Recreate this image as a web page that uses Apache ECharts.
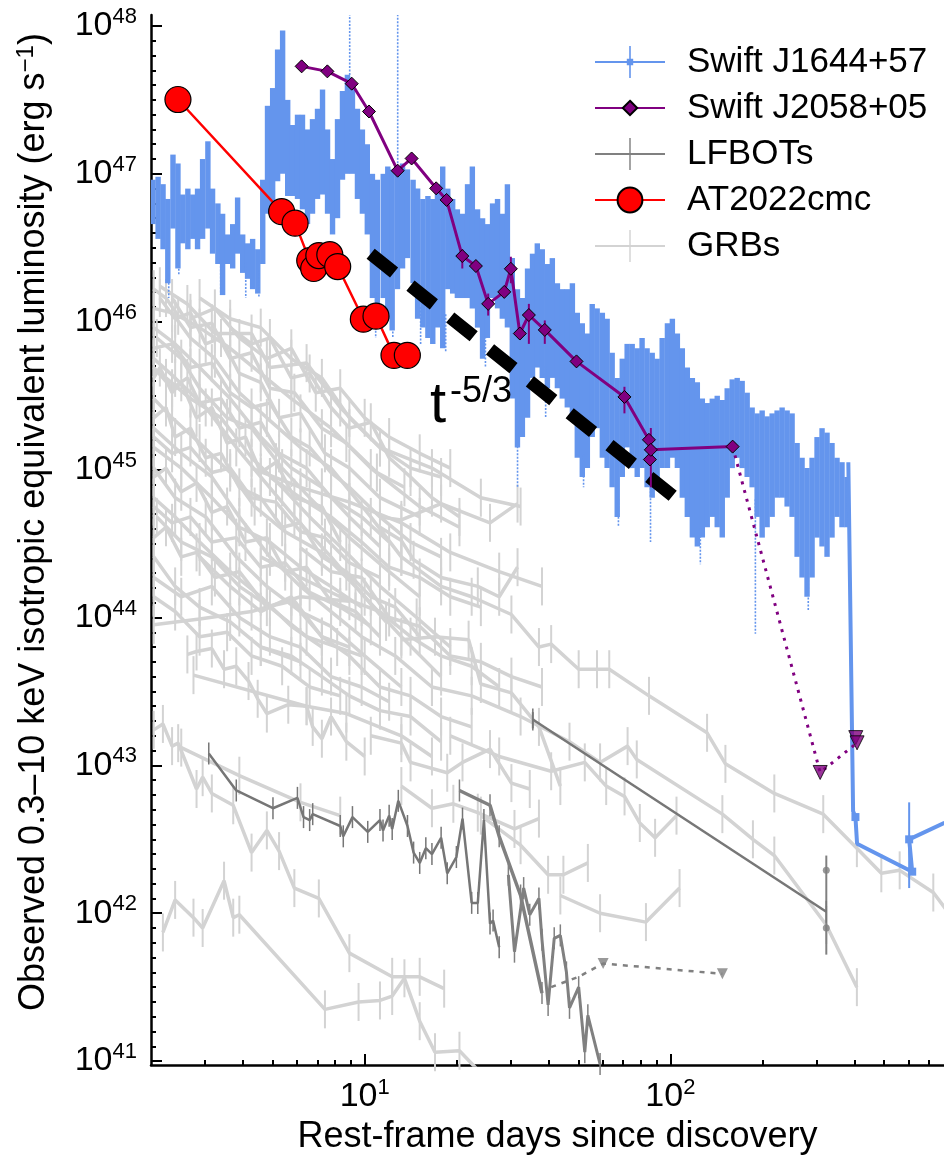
<!DOCTYPE html>
<html>
<head>
<meta charset="utf-8">
<script src="https://cdn.jsdelivr.net/npm/echarts@6.0.0/dist/echarts.min.js"></script>
<style>
html,body{margin:0;padding:0;background:#ffffff;}
#chart{width:944px;height:1160px;}
</style>
</head>
<body>
<div id="chart"></div>
<script>
// ---------------- DATA ----------------
const xTickExponents = [1, 2];
const yTickExponents = [41, 42, 43, 44, 45, 46, 47, 48];
const legendNames = ['Swift J1644+57', 'Swift J2058+05', 'LFBOTs', 'AT2022cmc', 'GRBs'];

// AT2022cmc (days, erg/s)
const at2022cmcDays = [2.45, 5.35, 5.92, 6.61, 6.81, 7.08, 7.69, 8.16, 9.90, 10.89, 12.47, 13.79];
const at2022cmcLum  = [3.18e47, 5.55e46, 4.64e46, 2.59e46, 2.29e46, 2.80e46, 2.84e46, 2.36e46, 1.04e46, 1.09e46, 5.92e45, 5.92e45];

// Swift J2058+05 detections
const j2058Days = [6.22, 7.55, 9.07, 10.33, 12.82, 14.24, 17.13, 18.53, 20.86, 23.11, 25.35, 28.61, 30.07, 32.18, 34.44, 38.83, 49.3, 70.74, 85.06, 85.7, 86.3, 159.8];
const j2058Lum  = [5.33e47, 4.93e47, 4.07e47, 2.64e47, 1.05e47, 1.27e47, 7.98e46, 6.66e46, 2.78e46, 2.38e46, 1.32e46, 1.59e46, 2.28e46, 8.32e45, 1.11e46, 8.80e45, 5.39e45, 3.10e45, 1.59e45, 1.17e45, 1.36e45, 1.43e45];
// Swift J2058+05 error bars: day, upper, lower
const j2058ErrDays = [20.86, 25.35, 30.07, 34.44, 38.83, 70.74, 86.3];
const j2058ErrHi   = [3.09e46, 1.55e46, 2.75e46, 1.32e46, 1.02e46, 3.63e45, 1.91e45];
const j2058ErrLo   = [2.29e46, 1.10e46, 1.82e46, 7.08e45, 7.08e45, 2.40e45, 7.59e44];
// Swift J2058+05 upper limits
const j2058LimDays = [309, 404, 408];
const j2058LimLum  = [8.95e42, 1.54e43, 1.42e43];

// Swift J1644+57 dense light curve: day, upper / lower edge of the band (log10 erg/s)
const j1644Days = [
 2.03,2.11,2.19,2.27,2.36,2.45,2.54,2.64,2.74,2.84,
 2.95,3.07,3.18,3.31,3.43,3.56,3.70,3.84,3.99,4.14,
 4.30,4.47,4.64,4.81,5.00,5.19,5.39,5.60,5.81,6.03,
 6.26,6.50,6.75,7.01,7.28,7.56,7.85,8.15,8.46,8.78,
 9.12,9.47,9.83,10.2,10.6,11.0,11.5,11.9,12.3,12.8,
 13.3,13.8,14.4,14.9,15.5,16.1,16.7,17.3,18.0,18.7,
 19.4,20.1,20.9,21.7,22.5,23.4,24.3,25.2,26.2,27.2,
 28.2,29.3,30.4,31.6,32.8,34.1,35.4,36.7,38.1,39.6,
 41.1,42.7,44.3,46.0,47.8,49.6,51.5,53.5,55.5,57.6,
 59.9,62.1,64.5,67.0,69.6,72.2,75.0,77.9,80.8,83.9,
 87.2,90.5,94.0,97.8,101.5,105.4,109.4,113.6,118.0,122.5,
 127.2,132.0,137.1,142.3,147.8,153.4,159.3,165.4,171.7,178.3,
 185.1,192.2,199.6,207.2,215.2,223.4,232.0,240.9,250.1,259.7,
 269.6,279.9,290.7,301.8,313.4,325.4,337.8,350.8,364.2,378.2];
const j1644LogHi = [
 46.96,46.98,46.93,46.83,47.13,47.07,46.86,46.90,46.86,46.90,
 47.10,47.22,46.90,46.80,46.73,46.59,46.66,46.84,46.59,46.53,
 46.56,46.49,46.96,47.46,47.58,47.84,47.97,47.50,47.33,47.40,
 47.40,47.30,47.37,47.44,47.57,47.30,47.10,47.37,47.56,47.67,
 47.60,47.44,47.30,47.20,47.00,46.96,47.00,47.05,47.03,47.00,
 47.07,47.03,46.96,46.90,46.83,46.85,46.83,46.93,47.05,46.90,
 46.83,46.76,46.73,46.93,47.05,46.76,46.70,46.66,46.80,46.83,
 46.73,46.93,46.43,46.22,46.16,46.36,46.46,46.53,46.49,46.39,
 46.43,46.26,46.22,46.22,46.26,46.06,45.99,45.92,46.12,46.09,
 46.06,46.02,45.79,45.62,45.75,45.85,45.85,45.82,45.89,45.82,
 45.79,45.75,45.89,45.99,46.02,45.92,45.82,45.69,45.62,45.59,
 45.48,45.45,45.48,45.50,45.47,45.55,45.61,45.62,45.60,45.52,
 45.42,45.38,45.40,45.36,45.38,45.40,45.42,45.40,45.38,45.18,
 45.08,45.01,45.08,45.22,45.28,45.25,45.18,45.08,45.05,44.95];
const j1644LogLo = [
 46.66,46.56,46.49,46.26,46.63,46.36,46.53,46.49,46.56,46.49,
 46.56,46.63,46.46,46.39,46.18,46.39,46.36,46.46,46.33,46.29,
 46.22,46.19,46.39,46.73,46.75,46.95,47.00,46.85,46.85,46.83,
 46.76,46.66,46.73,46.83,46.86,46.73,46.59,46.70,46.96,47.00,
 47.00,46.83,46.73,46.59,46.16,46.09,46.16,46.02,45.94,46.22,
 46.36,46.43,46.26,46.02,45.96,45.89,45.85,45.96,45.82,46.22,
 46.19,46.16,46.16,46.16,46.09,45.96,45.75,45.89,46.16,46.09,
 46.02,45.96,45.48,45.15,45.22,45.35,45.62,45.69,45.62,45.55,
 45.62,45.55,45.48,45.42,45.35,45.08,44.95,45.01,45.22,45.28,
 45.08,45.01,44.88,44.68,44.95,45.15,45.01,44.95,45.01,44.88,
 44.81,44.88,45.01,45.01,45.08,45.01,44.81,44.68,44.54,44.48,
 44.54,44.61,44.68,44.61,44.54,44.81,45.01,45.08,45.01,44.95,
 44.88,44.68,44.54,44.61,44.68,44.81,44.81,44.75,44.68,44.41,
 44.27,44.14,44.27,44.54,44.48,44.41,44.54,44.68,44.61,44.61];
// deep dotted error bars of J1644+57: [log day, log top, log bottom]
const j1644Dips = [
 [0.359,46.50,46.16],[0.392,46.50,46.31],[0.529,46.40,46.18],[0.611,46.40,46.16],[0.654,46.35,46.16],
 [1.036,46.20,45.89],[1.092,46.10,45.89],[1.183,46.10,45.85],[1.265,46.05,45.80],[1.395,45.90,45.69],
 [1.500,45.30,44.88],[1.592,45.70,45.35],[1.716,45.10,44.88],[1.830,44.80,44.61],[1.935,44.90,44.51],
 [2.098,44.60,44.36],[2.278,44.80,43.89],[2.451,44.30,44.05],
 [0.951,47.55,48.10],[1.108,47.00,48.10]];
// J1644+57 late-time decline (days, erg/s)
const j1644TailDays = [382, 396, 403, 408, 618, 604, 785, 1197];
const j1644TailLum  = [1.12e45, 4.90e42, 4.47e42, 2.95e42, 1.91e42, 3.16e42, 4.07e42, 5.13e42];
const j1644TailMark = [false, false, true, false, true, true, false, false];
const j1644TailErr  = [[604, 5.62e42, 1.48e42]];

// t^-5/3 guide (days, erg/s)
const slopeDays = [10.46, 108];
const slopeLum  = [2.88e46, 6.03e44];

// LFBOTs: [log10 day, log10 L]
const lfbotCurveA = [[0.49,43.08],[0.58,42.83],[0.70,42.71],[0.78,42.78],[0.80,42.65],[0.82,42.63],[0.83,42.67],[0.92,42.59],[0.93,42.52],[0.96,42.65],[1.01,42.55],[1.05,42.63],[1.06,42.56],[1.08,42.66],[1.09,42.57],[1.11,42.76],[1.14,42.59],[1.16,42.41],[1.18,42.34],[1.20,42.44],[1.22,42.40],[1.25,42.51],[1.27,42.27],[1.30,42.38],[1.32,42.64],[1.35,42.07],[1.37,42.07],[1.39,42.63],[1.41,41.93],[1.42,41.95],[1.44,41.77]];
const lfbotCurveB = [[1.31,42.83],[1.41,42.73],[1.44,42.52],[1.51,42.12],[1.58,41.46]];
const lfbotCurveC = [[1.47,42.26],[1.49,41.74],[1.52,42.17],[1.54,41.99],[1.57,42.10],[1.58,41.82],[1.60,41.38],[1.62,41.83],[1.64,41.85],[1.66,41.60],[1.67,41.36],[1.70,41.50],[1.72,41.06],[1.73,41.31],[1.77,40.98]];
const lfbotCurveD = [[1.55,43.31],[2.51,42.01]];
const lfbotPoints = [[2.51,42.29],[2.51,41.90]];
const lfbotPointErr = [[2.51,42.39,41.72],[1.55,43.36,43.25]];
const lfbotLimits = [[1.61,41.50],[1.70,41.57],[1.78,41.66],[2.17,41.59]];
const lfbotLimitMarks = [[1.78,41.66],[2.17,41.59]];

// GRBs: [log10 day, log10 L]
const grbCurves = [
 [[0.31,46.22],[0.35,46.16],[0.39,46.04],[0.46,45.96],[0.56,45.82],[0.66,45.65],[0.76,45.48],[0.89,45.28],[1.02,45.01],[1.18,44.75],[1.31,44.61]],
 [[0.31,46.09],[0.37,46.06],[0.43,45.89],[0.51,45.75],[0.59,45.52],[0.68,45.35],[0.79,45.15],[0.89,45.01],[1.02,44.68],[1.12,44.41]],
 [[0.33,46.24],[0.42,46.12],[0.51,45.92],[0.63,45.92],[0.69,45.69],[0.81,45.72],[0.92,45.42],[1.05,45.15],[1.22,45.01],[1.38,44.81],[1.51,44.75]],
 [[0.32,45.89],[0.40,45.75],[0.46,45.55],[0.55,45.35],[0.63,45.28],[0.73,45.01],[0.82,44.81],[0.95,44.54],[1.08,44.31],[1.18,44.14]],
 [[0.31,45.75],[0.38,45.62],[0.48,45.42],[0.58,45.15],[0.66,44.95],[0.77,44.68],[0.89,44.41],[1.00,44.14],[1.12,43.87],[1.25,43.60]],
 [[0.31,45.48],[0.37,45.35],[0.46,45.18],[0.56,44.98],[0.64,44.75],[0.74,44.58],[0.86,44.44],[0.97,44.21],[1.07,43.97]],
 [[0.31,45.28],[0.40,45.11],[0.50,44.95],[0.59,44.68],[0.69,44.41],[0.79,44.21],[0.89,44.04],[0.99,43.87],[1.10,43.74],[1.22,43.53]],
 [[0.31,45.01],[0.38,44.81],[0.48,44.68],[0.58,44.41],[0.68,44.21],[0.79,44.04],[0.89,43.94],[1.00,43.74],[1.12,43.53]],
 [[0.32,44.68],[0.40,44.51],[0.50,44.41],[0.59,44.21],[0.69,44.07],[0.81,43.87],[0.91,43.80],[0.99,43.74]],
 [[0.31,44.41],[0.38,44.21],[0.46,44.07],[0.56,43.97],[0.66,43.80],[0.79,43.70]],
 [[0.31,43.95],[0.46,43.99],[0.63,44.04],[0.79,44.14],[0.95,44.11]],
 [[0.42,43.75],[0.45,43.77],[0.50,43.79],[0.54,43.65],[0.58,43.67],[0.62,43.57],[0.65,43.45],[0.68,43.35],[0.75,43.41],[0.81,43.40],[0.83,43.26],[0.86,43.18],[0.89,43.33],[0.94,43.16],[1.00,43.06]],
 [[0.44,43.61],[0.81,43.40],[0.94,43.35],[1.12,43.20],[1.22,43.06]],
 [[0.31,43.24],[0.34,43.28],[0.37,43.13],[0.39,43.15],[0.45,42.84],[0.47,42.92],[0.50,42.81],[0.57,42.73],[0.63,42.41],[0.68,42.56],[0.72,42.42],[0.77,42.17],[0.85,42.10],[0.95,41.73],[1.09,41.57],[1.18,41.57],[1.26,41.49]],
 [[0.34,41.87],[0.38,42.09],[0.44,41.97],[0.47,41.90],[0.54,42.22],[0.57,41.97],[0.59,41.99],[0.87,41.35],[0.98,41.40],[1.05,41.41],[1.09,41.44],[1.13,41.56],[1.18,41.27],[1.23,41.06],[1.31,41.07],[1.37,40.94]],
 [[1.12,44.41],[1.25,44.21],[1.35,44.14],[1.48,44.02],[1.57,43.80],[1.61,43.82],[1.70,43.65],[1.76,43.65],[1.80,43.65],[1.93,43.47],[2.12,43.22],[2.18,43.01],[2.34,42.81],[2.50,42.67],[2.61,42.44],[2.69,42.27],[2.75,42.29],[2.86,42.14],[2.90,42.03]],
 [[1.05,44.68],[1.12,44.66],[1.25,44.77],[1.41,44.64],[1.50,44.77]],
 [[1.22,43.53],[1.35,43.47],[1.51,43.33],[1.67,43.16],[1.77,43.02],[1.86,43.13],[1.89,43.04],[2.17,42.67],[2.27,42.50],[2.34,42.39],[2.51,41.92],[2.61,41.50]],
 [[1.28,43.20],[1.44,43.06],[1.61,42.96],[1.72,43.02],[1.79,42.86],[1.85,42.79],[1.90,42.61],[1.95,42.51],[2.02,42.66]],
 [[1.12,42.86],[1.22,42.71],[1.29,42.74],[1.37,42.68],[1.49,42.57],[1.57,42.64]],
 [[1.38,42.66],[1.51,42.46],[1.60,42.26],[1.65,42.26],[1.73,42.34]],
 [[1.64,42.12],[1.77,42.00],[1.92,41.94],[2.03,42.17]],
 [[1.05,44.61],[1.12,44.52],[1.16,44.39],[1.25,44.27],[1.37,44.21],[1.44,44.14],[1.50,44.34]],
 [[1.12,43.85],[1.23,43.87],[1.34,43.85],[1.38,43.55],[1.48,43.49],[1.57,43.26],[1.64,42.86]],
 [[1.02,43.20],[1.12,43.15],[1.15,43.02],[1.27,42.95],[1.32,43.02],[1.41,43.11],[1.48,42.88],[1.54,42.84]],
 [[0.40,43.12],[0.59,42.93],[0.79,42.75],[0.92,42.66]],
 [[0.31,45.96],[0.38,45.85],[0.46,45.69],[0.56,45.48],[0.66,45.22],[0.76,45.01],[0.86,44.88],[0.95,44.68],[1.05,44.48]],
 [[0.31,45.15],[0.40,45.01],[0.50,44.81],[0.59,44.61],[0.69,44.51],[0.79,44.34],[0.89,44.21],[0.99,44.07]],
 [[0.31,44.81],[0.38,44.68],[0.46,44.51],[0.56,44.31],[0.66,44.14],[0.76,43.94],[0.86,43.80]],
 [[0.35,45.62],[0.43,45.48],[0.53,45.35],[0.63,45.08],[0.73,44.88],[0.82,44.68],[0.94,44.44],[1.05,44.21],[1.17,44.00],[1.28,43.80]],
 [[0.46,46.16],[0.56,46.02],[0.66,45.96],[0.76,45.75],[0.86,45.62],[0.95,45.35],[1.05,45.15],[1.15,45.01],[1.25,44.95]],
 [[0.63,45.01],[0.79,44.88],[0.95,44.78],[1.12,44.64],[1.28,44.44],[1.44,44.31],[1.58,44.21]],
 [[0.31,45.62],[0.33,45.69],[0.37,45.52],[0.40,45.59],[0.45,45.35],[0.50,45.42],[0.55,45.18],[0.61,45.22],[0.66,44.98],[0.71,45.05],[0.77,44.81],[0.86,44.75],[0.92,44.51]],
 [[0.31,44.54],[0.35,44.61],[0.40,44.41],[0.45,44.44],[0.51,44.27],[0.59,44.31],[0.68,44.07],[0.76,44.11],[0.86,43.87],[0.95,43.80]],
 [[0.66,44.41],[0.79,44.27],[0.92,44.14],[1.05,44.04],[1.15,43.87],[1.25,43.74],[1.35,43.67],[1.44,43.53]],
 [[0.31,44.27],[0.40,44.14],[0.50,44.21],[0.59,44.00],[0.69,43.87],[0.79,43.80],[0.89,43.60],[0.99,43.53],[1.08,43.43]],
 [[0.46,44.41],[0.56,44.21],[0.66,44.04],[0.76,44.14],[0.86,43.87],[0.95,43.74],[1.05,43.53],[1.15,43.47],[1.25,43.33],[1.35,43.26]],
 [[0.31,45.35],[0.35,45.42],[0.38,45.22],[0.43,45.28],[0.48,45.08],[0.53,45.11],[0.59,44.88],[0.66,44.81],[0.73,44.61],[0.79,44.64],[0.86,44.41],[0.94,44.31],[1.02,44.14],[1.10,44.07],[1.18,43.87]],
 [[0.56,45.96],[0.63,45.85],[0.69,45.89],[0.76,45.62],[0.82,45.65],[0.89,45.42],[0.95,45.28],[1.02,45.32],[1.08,45.08],[1.15,44.95],[1.22,44.81],[1.31,44.68]],
 [[0.31,45.82],[0.37,45.85],[0.43,45.69],[0.50,45.72],[0.56,45.52],[0.63,45.42],[0.69,45.45],[0.76,45.22],[0.82,45.15],[0.89,44.98],[0.95,44.88],[1.05,44.68],[1.15,44.51],[1.25,44.41]],
 [[0.79,44.47],[0.89,44.31],[0.99,44.27],[1.08,44.00],[1.18,43.94],[1.28,43.74],[1.38,43.70],[1.48,43.60],[1.58,43.53]],
 [[0.31,44.95],[0.35,45.01],[0.40,44.85],[0.45,44.91],[0.50,44.71],[0.55,44.75],[0.61,44.51],[0.68,44.54],[0.74,44.31],[0.81,44.34],[0.89,44.11],[0.97,44.04],[1.05,43.87]],
 [[0.33,46.16],[0.38,46.02],[0.43,46.06],[0.48,45.85],[0.53,45.89],[0.59,45.65],[0.66,45.59],[0.72,45.35],[0.79,45.38],[0.87,45.11],[0.95,45.01],[1.05,44.81],[1.18,44.68]],
 [[0.66,43.80],[0.76,43.74],[0.86,43.60],[0.95,43.47],[1.05,43.37],[1.15,43.33],[1.25,43.16]],
 [[0.31,45.69],[0.37,45.55],[0.42,45.62],[0.46,45.45],[0.53,45.48],[0.59,45.28],[0.66,45.32],[0.72,45.11],[0.81,45.01],[0.89,44.81],[0.99,44.68],[1.08,44.51]],
 [[0.31,45.22],[0.37,45.11],[0.43,45.15],[0.50,44.98],[0.56,45.01],[0.63,44.81],[0.71,44.78],[0.79,44.58],[0.87,44.54],[0.95,44.37],[1.05,44.27]],
 [[0.31,44.75],[0.37,44.64],[0.43,44.68],[0.50,44.51],[0.58,44.54],[0.66,44.34],[0.74,44.37],[0.82,44.17],[0.92,44.07],[1.02,43.94]],
 [[0.37,46.16],[0.43,45.96],[0.50,45.99],[0.56,45.75],[0.63,45.79],[0.69,45.55],[0.77,45.52],[0.86,45.28],[0.94,45.18],[1.04,44.98],[1.13,44.88]],
 [[0.31,44.14],[0.38,44.04],[0.46,43.87],[0.55,43.90],[0.63,43.74],[0.73,43.67],[0.82,43.53],[0.92,43.47]],
 [[0.43,46.02],[0.51,46.09],[0.59,45.89],[0.68,45.75],[0.76,45.82],[0.84,45.52],[0.92,45.55],[1.00,45.35],[1.08,45.22],[1.18,45.11],[1.28,45.01]],
 [[0.69,44.95],[0.79,44.81],[0.89,44.68],[0.99,44.51],[1.08,44.34],[1.18,44.27],[1.28,44.14],[1.38,44.07]]
];

// ---------------- BUILD ----------------
const L10 = Math.log10;
const FONT = 'Liberation Sans';
const BLUE = '#6495ED', PURPLE = '#800080', GREY_GRB = '#d3d3d3', GREY_LF = '#808080', RED = '#ff0000';
const X_MIN = L10(2), X_MAX = 2.895, Y_MIN = 40.973, Y_MAX = 48.074;

const pair = (d, l) => [L10(d), L10(l)];

function errBars(data, color, width, dash, z) {
  return {
    type: 'custom', z: z, clip: true, silent: true, data: data,
    encode: { x: 0, y: [1, 2] },
    renderItem: function (p, api) {
      const a = api.coord([api.value(0), api.value(1)]);
      const b = api.coord([api.value(0), api.value(2)]);
      return { type: 'line', shape: { x1: a[0], y1: a[1], x2: b[0], y2: b[1] },
               style: { stroke: color, lineWidth: width, lineDash: dash || null } };
    }
  };
}

const xMinor = [3,4,5,6,7,8,9,20,30,40,50,60,70,80,90,200,300,400,500,600,700].map(L10);
const yMinor = [];
for (let n = 41; n < 48; n++) for (let k = 1; k < 10; k++) yMinor.push(n + k / 10);

const supLabel = v => '{b|10}{s|' + Math.round(v) + '}';
const labelRich = {
  b: { fontSize: 34, fontFamily: FONT, color: '#000' },
  s: { fontSize: 22, fontFamily: FONT, color: '#000', padding: [0, 0, 18, 0] }
};

const series = [];
// legend carriers
series.push({ name: 'Swift J1644+57', type: 'line', data: [], symbol: 'path://M0,0M40,40M19,0H21V16H24V24H21V40H19V24H16V16H19Z',
  lineStyle: { color: BLUE, width: 4.5 }, itemStyle: { color: BLUE } });
series.push({ name: 'Swift J2058+05', type: 'line', data: [], symbol: 'path://M0,0M40,40M20,11L29,20L20,29L11,20Z',
  lineStyle: { color: PURPLE, width: 3 }, itemStyle: { color: PURPLE, borderColor: '#000', borderWidth: 1 } });
series.push({ name: 'LFBOTs', type: 'line', data: [], symbol: 'path://M0,0M40,40M19.1,0H20.9V40H19.1Z',
  lineStyle: { color: GREY_LF, width: 3 }, itemStyle: { color: GREY_LF } });
series.push({ name: 'AT2022cmc', type: 'line', data: [], symbol: 'path://M0,0M40,40M20,4.5A15.5,15.5,0,1,1,19.99,4.5Z',
  lineStyle: { color: RED, width: 2.5 }, itemStyle: { color: RED, borderColor: '#000', borderWidth: 1 } });
series.push({ name: 'GRBs', type: 'line', data: [], symbol: 'path://M0,0M40,40M19.1,0H20.9V40H19.1Z',
  lineStyle: { color: GREY_GRB, width: 3 }, itemStyle: { color: GREY_GRB } });

// GRBs
grbCurves.forEach((c, i) => series.push({
  name: 'grb' + i, type: 'line', data: c, z: 1, silent: true,
  symbol: 'rect', symbolSize: [2, 38], showSymbol: true,
  lineStyle: { color: GREY_GRB, width: 3.5 }, itemStyle: { color: GREY_GRB }
}));

// LFBOTs
[[lfbotCurveA, '#767676', 2.5], [lfbotCurveB, GREY_LF, 3.5], [lfbotCurveC, GREY_LF, 3], [lfbotCurveD, '#777777', 2.5]].forEach((c, i) => series.push({
  name: 'lfbot' + i, type: 'line', data: c[0], z: 2, silent: true,
  symbol: 'rect', symbolSize: [1.5, 22], showSymbol: true,
  lineStyle: { color: c[1], width: c[2] }, itemStyle: { color: c[1] }
}));
series.push({ name: 'lfbotPts', type: 'scatter', data: lfbotPoints, z: 2, symbol: 'circle', symbolSize: 7, itemStyle: { color: GREY_LF }, silent: true });
series.push(errBars(lfbotPointErr, GREY_LF, 2, null, 2));
series.push({ name: 'lfbotLim', type: 'line', data: lfbotLimits, z: 2, silent: true, symbol: 'none',
  lineStyle: { color: GREY_LF, width: 2.5, type: [5, 6] } });
series.push({ name: 'lfbotLimMarks', type: 'scatter', data: lfbotLimitMarks, z: 2, silent: true,
  symbol: 'triangle', symbolRotate: 180, symbolSize: 11, itemStyle: { color: GREY_LF } });

// J1644 band
series.push({
  name: 'j1644band', type: 'custom', z: 3, clip: true, silent: true,
  data: j1644Days.map((d, i) => [L10(d), j1644LogHi[i], j1644LogLo[i]]),
  encode: { x: 0, y: [1, 2] },
  renderItem: function (p, api) {
    const a = api.coord([api.value(0), api.value(1)]);
    const b = api.coord([api.value(0), api.value(2)]);
    return { type: 'rect', shape: { x: a[0] - 2.7, y: a[1], width: 5.4, height: b[1] - a[1] }, style: { fill: BLUE } };
  }
});
series.push(errBars(j1644Dips, BLUE, 1.6, [2, 1.5], 3));
series.push({
  name: 'j1644tail', type: 'line', z: 3, silent: true,
  data: j1644TailDays.map((d, i) => ({ value: pair(d, j1644TailLum[i]), symbol: j1644TailMark[i] ? 'rect' : 'none' })),
  symbolSize: 8, lineStyle: { color: BLUE, width: 4 }, itemStyle: { color: BLUE }
});
series.push(errBars(j1644TailErr.map(e => [L10(e[0]), L10(e[1]), L10(e[2])]), BLUE, 2, null, 3));

// t^-5/3 guide
series.push({ name: 'slope', type: 'line', z: 4, silent: true, symbol: 'none',
  data: slopeDays.map((d, i) => pair(d, slopeLum[i])),
  lineStyle: { color: '#000', width: 13, type: [30, 21], cap: 'butt' } });

// J2058
series.push(errBars(j2058ErrDays.map((d, i) => [L10(d), L10(j2058ErrHi[i]), L10(j2058ErrLo[i])]), PURPLE, 2, null, 5));
series.push({ name: 'j2058lim', type: 'line', z: 5, silent: true, symbol: 'none',
  data: [pair(j2058Days[j2058Days.length - 1], j2058Lum[j2058Lum.length - 1]), pair(j2058LimDays[0], j2058LimLum[0]), pair(j2058LimDays[2], j2058LimLum[2])],
  lineStyle: { color: PURPLE, width: 3, type: [3, 6] } });
series.push({ name: 'j2058limMarks', type: 'scatter', z: 6, silent: true,
  data: j2058LimDays.map((d, i) => pair(d, j2058LimLum[i])),
  symbol: 'triangle', symbolRotate: 180, symbolSize: 14,
  itemStyle: { color: PURPLE, borderColor: '#000', borderWidth: 1 } });
series.push({ name: 'j2058', type: 'line', z: 6, silent: true,
  data: j2058Days.map((d, i) => pair(d, j2058Lum[i])),
  symbol: 'diamond', symbolSize: 13,
  lineStyle: { color: PURPLE, width: 3 },
  itemStyle: { color: PURPLE, borderColor: '#000', borderWidth: 1 } });

// AT2022cmc
series.push({ name: 'at2022cmc', type: 'line', z: 7, silent: true,
  data: at2022cmcDays.map((d, i) => pair(d, at2022cmcLum[i])),
  symbol: 'circle', symbolSize: 26,
  lineStyle: { color: RED, width: 2.5 },
  itemStyle: { color: RED, borderColor: '#000', borderWidth: 1.2 } });

const option = {
  animation: false,
  backgroundColor: '#ffffff',
  grid: { left: 151, right: 0, top: 15, bottom: 89, containLabel: false },
  legend: {
    data: legendNames, orient: 'vertical', left: 589, top: 37,
    itemWidth: 70, itemHeight: 40, itemGap: 6, selectedMode: false,
    textStyle: { fontSize: 35, fontFamily: FONT, color: '#000', padding: [0, 0, 0, 17], lineHeight: 40 }
  },
  xAxis: [
    {
      type: 'value', min: X_MIN, max: X_MAX, position: 'bottom',
      axisLine: { show: true, onZero: false, lineStyle: { color: '#000', width: 2.5 } },
      axisTick: { show: true, inside: true, length: 11, customValues: xTickExponents, lineStyle: { color: '#000', width: 2 } },
      axisLabel: { show: true, customValues: xTickExponents, formatter: supLabel, margin: 12, rich: labelRich },
      splitLine: { show: false },
      name: 'Rest-frame days since discovery', nameLocation: 'middle', nameGap: 40,
      nameTextStyle: { fontSize: 36, fontFamily: FONT, color: '#000', padding: [0, 0, 0, 20] }
    },
    {
      type: 'value', min: X_MIN, max: X_MAX, position: 'bottom',
      axisLine: { show: false },
      axisTick: { show: true, inside: true, length: 5, customValues: xMinor, lineStyle: { color: '#000', width: 2 } },
      axisLabel: { show: false }, splitLine: { show: false }
    }
  ],
  yAxis: [
    {
      type: 'value', min: Y_MIN, max: Y_MAX, position: 'left',
      axisLine: { show: true, onZero: false, lineStyle: { color: '#000', width: 2.5 } },
      axisTick: { show: true, inside: true, length: 11, customValues: yTickExponents, lineStyle: { color: '#000', width: 2 } },
      axisLabel: { show: true, customValues: yTickExponents, formatter: supLabel, margin: 14, rich: labelRich },
      splitLine: { show: false },
      name: 'Observed 0.3–10 keV isotropic equivalent luminosity (erg s{sup|−1})',
      nameLocation: 'middle', nameGap: 97, nameRotate: 90,
      nameTextStyle: { fontSize: 36, fontFamily: FONT, color: '#000', padding: [0, 0, 0, 36],
        rich: { sup: { fontSize: 24, fontFamily: FONT, color: '#000', padding: [0, 0, 16, 0] } } }
    },
    {
      type: 'value', min: Y_MIN, max: Y_MAX, position: 'left',
      axisLine: { show: false },
      axisTick: { show: true, inside: true, length: 5, customValues: yMinor, lineStyle: { color: '#000', width: 2 } },
      axisLabel: { show: false }, splitLine: { show: false }
    }
  ],
  graphic: [
    { type: 'text', left: 430, top: 377, z: 100, style: { text: 't', font: '58px "Liberation Sans"', fill: '#000' } },
    { type: 'text', left: 450, top: 374, z: 100, style: { text: '-5/3', font: '36px "Liberation Sans"', fill: '#000' } }
  ],
  series: series
};

const chart = echarts.init(document.getElementById('chart'), null, { renderer: 'canvas' });
chart.setOption(option);
</script>
</body>
</html>
